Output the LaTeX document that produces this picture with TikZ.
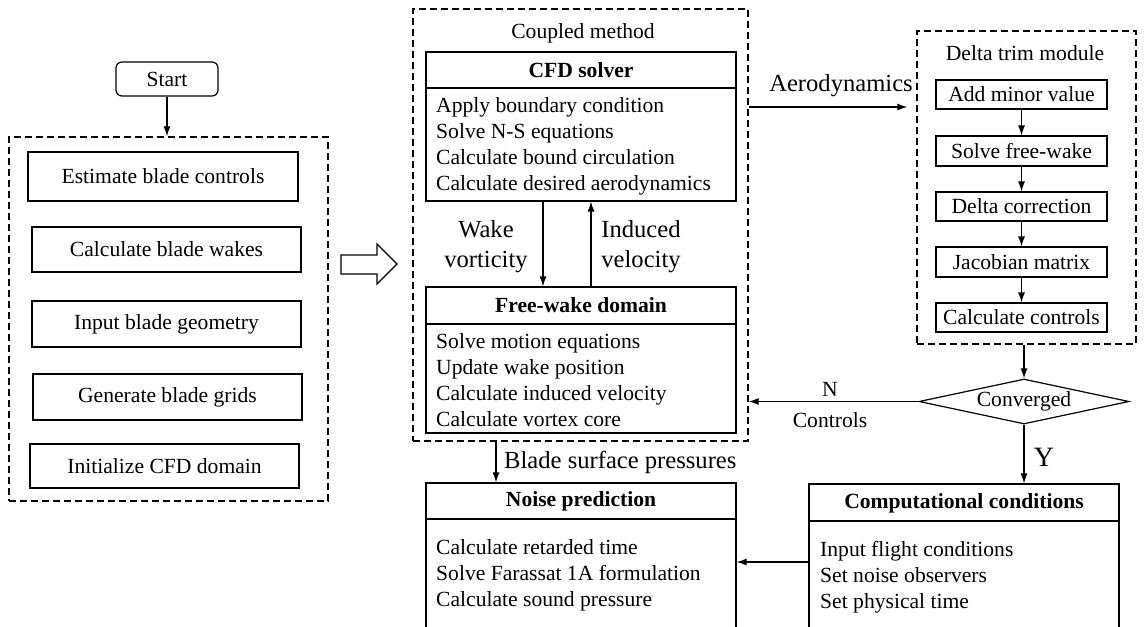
\documentclass[tikz,border=0pt]{standalone}
\usepackage{fontspec}
\setmainfont{Liberation Serif}
\usetikzlibrary{arrows.meta,shapes.geometric,calc}
\newcommand\bodyf{\fontsize{21.6}{26}\selectfont}
\newcommand\bigf{\fontsize{24.6}{30}\selectfont}
\begin{document}
\begin{tikzpicture}[x=1pt,y=-1pt,
  box/.style={draw,line width=1.2pt,inner sep=0pt,minimum width=#1},
  dbox/.style={draw,line width=1.4pt,dash pattern=on 7pt off 4pt,inner sep=0pt},
  arr/.style={line width=1.2pt,-{Latex[length=10pt,width=7pt]}},
  txt/.style={font=\bodyf,inner sep=0pt},
  lines/.style={font=\bodyf,inner sep=0pt,align=left,anchor=west},
  hdr/.style={font=\bodyf\bfseries,inner sep=0pt}]
\useasboundingbox (0,0) rectangle (1147,626);
\clip (0,0) rectangle (1147,626);

% ---------- left part ----------
\node[draw,line width=1.2pt,rounded corners=6pt,minimum width=102pt,minimum height=34pt,inner sep=0pt,font=\bodyf] (start) at (167,79) {Start};
\node[dbox,minimum width=319pt,minimum height=364pt] (left) at (168.5,319) {};
\node[box=270pt,minimum height=49pt,font=\bodyf] (e1) at (163,176.5) {Estimate blade controls};
\node[box=269pt,minimum height=45pt,font=\bodyf] (e2) at (166.5,249.5) {Calculate blade wakes};
\node[box=269pt,minimum height=46pt,font=\bodyf] (e3) at (166.5,324) {Input blade geometry};
\node[box=269pt,minimum height=46pt,font=\bodyf] (e4) at (167.5,397) {Generate blade grids};
\node[box=269pt,minimum height=44pt,font=\bodyf] (e5) at (164.5,466) {Initialize CFD domain};
\draw[arr] (start.south) -- (start.south |- left.north);

% hollow arrow
\draw[line width=1.2pt,line join=miter] (341,255) -- (377,255) -- (377,244) -- (397,264) -- (377,284) -- (377,274) -- (341,274) -- cycle;

% ---------- coupled method ----------
\node[dbox,minimum width=335pt,minimum height=432pt] (coupled) at (580.5,225) {};
\node[txt] (cmlab) at (583,33) {Coupled method};

\node[box=310pt,minimum height=149pt] (cfd) at (581,126.5) {};
\draw[line width=1.2pt] (cfd.west |- 0,88) -- (cfd.east |- 0,88);
\node[hdr] (cfdh) at (581,70) {CFD solver};
\node[lines] (cfdb) at (436,146) {Apply boundary condition\\Solve N-S equations\\Calculate bound circulation\\Calculate desired aerodynamics};

\node[box=310pt,minimum height=146pt] (fw) at (581,360) {};
\draw[line width=1.2pt] (fw.west |- 0,324) -- (fw.east |- 0,324);
\node[hdr] (fwh) at (581,305) {Free-wake domain};
\node[lines] (fwb) at (436,380.5) {Solve motion equations\\Update wake position\\Calculate induced velocity\\Calculate vortex core};

\coordinate (wx) at (543,0);
\coordinate (ix) at (591,0);
\draw[arr] (wx |- cfd.south) -- (wx |- fw.north);
\draw[arr] (ix |- fw.north) -- (ix |- cfd.south);
\node[font=\bigf,inner sep=0pt,align=center] (wv) at (486,247) {Wake\\vorticity};
\node[font=\bigf,inner sep=0pt,align=center] (iv) at (641,247) {Induced\\velocity};

% ---------- noise prediction ----------
\node[box=310pt,minimum height=160pt] (noise) at (581,563) {};
\draw[line width=1.2pt] (noise.west |- 0,519) -- (noise.east |- 0,519);
\node[hdr] (noiseh) at (581,501) {Noise prediction};
\node[lines] (noiseb) at (436,575.5) {Calculate retarded time\\Solve Farassat 1A formulation\\Calculate sound pressure};

\coordinate (bx) at (496,0);
\draw[arr] (bx |- coupled.south) -- (bx |- noise.north);
\node[font=\bigf,inner sep=0pt,anchor=west] (bsp) at (504,462) {Blade surface pressures};

% ---------- delta trim ----------
\node[dbox,minimum width=219pt,minimum height=313pt] (delta) at (1026.5,187.5) {};
\node[txt] (dtlab) at (1025,53) {Delta trim module};
\node[box=171pt,minimum height=29pt,font=\bodyf] (d1) at (1021.5,94.5) {Add minor value};
\node[box=171pt,minimum height=30pt,font=\bodyf] (d2) at (1021.5,151) {Solve free-wake};
\node[box=171pt,minimum height=29pt,font=\bodyf] (d3) at (1021.5,206.5) {Delta correction};
\node[box=171pt,minimum height=30pt,font=\bodyf] (d4) at (1021.5,262) {Jacobian matrix};
\node[box=171pt,minimum height=29pt,font=\bodyf] (d5) at (1021.5,317.5) {Calculate controls};
\draw[arr] (d1.south) -- (d2.north);
\draw[arr] (d2.south) -- (d3.north);
\draw[arr] (d3.south) -- (d4.north);
\draw[arr] (d4.south) -- (d5.north);

\coordinate (ay) at (0,107);
\draw[arr,shorten >=9pt] (coupled.east |- ay) -- (delta.west |- ay);
\node[font=\bigf,inner sep=0pt] (aero) at (841,86) {Aerodynamics};

% ---------- converged ----------
\node[diamond,draw,line width=1.2pt,minimum width=210pt,minimum height=45pt,inner sep=0pt] (conv) at (1024,401.5) {};
\node[txt] (convt) at (conv) {Converged};
\draw[arr] (conv.north |- delta.south) -- (conv.north);
\draw[arr] (conv.west) -- (coupled.east |- conv.west);
\node[txt] (nlab) at (830,389) {N};
\node[txt] (ctl) at (830,420) {Controls};

% ---------- computational conditions ----------
\node[box=310pt,minimum height=160pt] (comp) at (964,564) {};
\draw[line width=1.2pt] (comp.west |- 0,521) -- (comp.east |- 0,521);
\node[hdr] (comph) at (964,503) {Computational conditions};
\node[lines] (compb) at (820,577.5) {Input flight conditions\\Set noise observers\\Set physical time};
\draw[arr] (conv.south) -- (conv.south |- comp.north);
\node[font=\fontsize{28}{30}\selectfont,inner sep=0pt] (ylab) at (1044,457) {Y};

\coordinate (cy) at (0,562);
\draw[arr] (comp.west |- cy) -- (noise.east |- cy);
\end{tikzpicture}
\end{document}
